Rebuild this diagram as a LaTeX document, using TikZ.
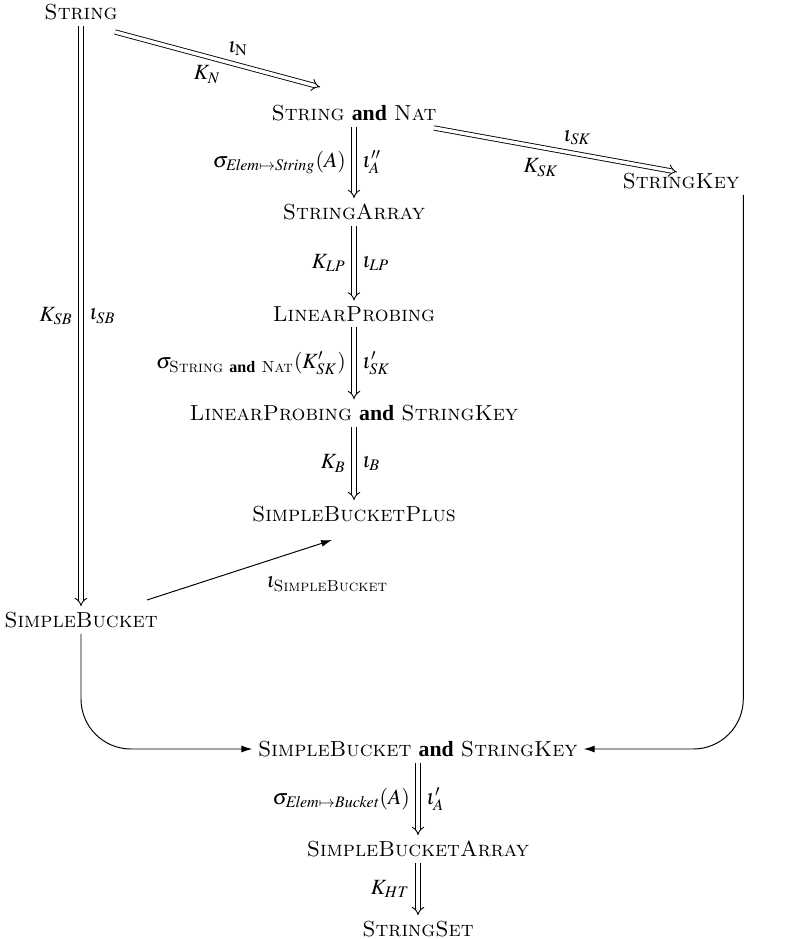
\documentclass[tikz,border=0pt]{standalone}
\usepackage{amsmath}
\usepackage{mathptmx}
\usepackage[no-math]{fontspec}
\newfontfamily\tms{Liberation Serif}
\usetikzlibrary{arrows.meta,calc}

\newcommand{\spec}[1]{\textsc{#1}}
\newcommand{\andw}{{\tms\bfseries and}}

\tikzset{
  obj/.style={inner sep=2.5pt},
  dbl/.style={double, double distance=1.6pt, line width=0.4pt, -{Implies}},
  sgl/.style={line width=0.45pt, -{Latex[length=5pt,width=3.2pt]}},
  lbl/.style={inner sep=3.6pt},
}

\begin{document}
\begin{tikzpicture}[x=0.46pt,y=-0.46pt]
  \useasboundingbox (0,0) rectangle (807,939);

  % objects
  \node[obj] (S)    at (81,12)   {\spec{String}};
  \node[obj] (SN)   at (354,113) {\spec{String} \andw{} \spec{Nat}};
  \node[obj] (SK)   at (681,181) {\spec{StringKey}};
  \node[obj] (SA)   at (354,212) {\spec{StringArray}};
  \node[obj] (LP)   at (354,314) {\spec{LinearProbing}};
  \node[obj] (LPSK) at (354,413) {\spec{LinearProbing} \andw{} \spec{StringKey}};
  \node[obj] (SBP)  at (354,514) {\spec{SimpleBucketPlus}};
  \node[obj] (SB)   at (81,620)  {\spec{SimpleBucket}};
  \node[obj] (SBSK) at (418,749) {\spec{SimpleBucket} \andw{} \spec{StringKey}};
  \node[obj] (SBA)  at (418,849) {\spec{SimpleBucketArray}};
  \node[obj] (SS)   at (418,929) {\spec{StringSet}};

  % long left column
  \draw[dbl] (S) -- (SB)
    node[lbl, midway, left]  {$K_{SB}$}
    node[lbl, midway, right] {$\iota_{SB}$};

  % diagonals
  \draw[dbl] ($(S)+(34,20)$) -- ($(SN)+(-34,-26)$)
    node[inner sep=2pt, pos=0.6, above=2pt]  {$\iota_{\mathrm{N}}$}
    node[inner sep=2pt, pos=0.45, below=2pt] {$K_N$};
  \draw[dbl] ($(SN)+(80,15)$) -- ($(SK)+(-4,-9)$)
    node[inner sep=2pt, pos=0.59, above=2pt] {$\iota_{SK}$}
    node[inner sep=2pt, pos=0.44, below=3pt] {$K_{SK}$};

  % central column
  \draw[dbl] (SN) -- (SA)
    node[lbl, midway, left]  {$\sigma_{\mathit{Elem}\mapsto\mathit{String}}(A)$}
    node[lbl, midway, right] {$\iota''_A$};
  \draw[dbl] (SA) -- (LP)
    node[lbl, midway, left]  {$K_{LP}$}
    node[lbl, midway, right] {$\iota_{LP}$};
  \draw[dbl] (LP) -- (LPSK)
    node[lbl, midway, left]  {$\sigma_{\text{\spec{String} \andw{} \spec{Nat}}}(K'_{SK})$}
    node[lbl, midway, right] {$\iota'_{SK}$};
  \draw[dbl] (LPSK) -- (SBP)
    node[lbl, midway, left]  {$K_B$}
    node[lbl, midway, right] {$\iota_B$};

  % inclusion into SimpleBucketPlus
  \draw[sgl] ($(SB)+(66,-20)$) -- ($(SBP)+(-22,26)$)
    node[inner sep=2pt, pos=0.62, anchor=north west, yshift=-4pt] {$\iota_{\text{\spec{SimpleBucket}}}$};

  % joins into the combined specification
  \draw[sgl, rounded corners=23pt] (SB.south) |- (SBSK.west);
  \draw[sgl, rounded corners=23pt] ($(SK.south east)+(-2,0)$) |- (SBSK.east);

  % bottom column
  \draw[dbl] (SBSK) -- (SBA)
    node[lbl, midway, left]  {$\sigma_{\mathit{Elem}\mapsto\mathit{Bucket}}(A)$}
    node[lbl, midway, right] {$\iota'_A$};
  \draw[dbl] (SBA) -- (SS)
    node[lbl, midway, left]  {$K_{HT}$};
\end{tikzpicture}
\end{document}
